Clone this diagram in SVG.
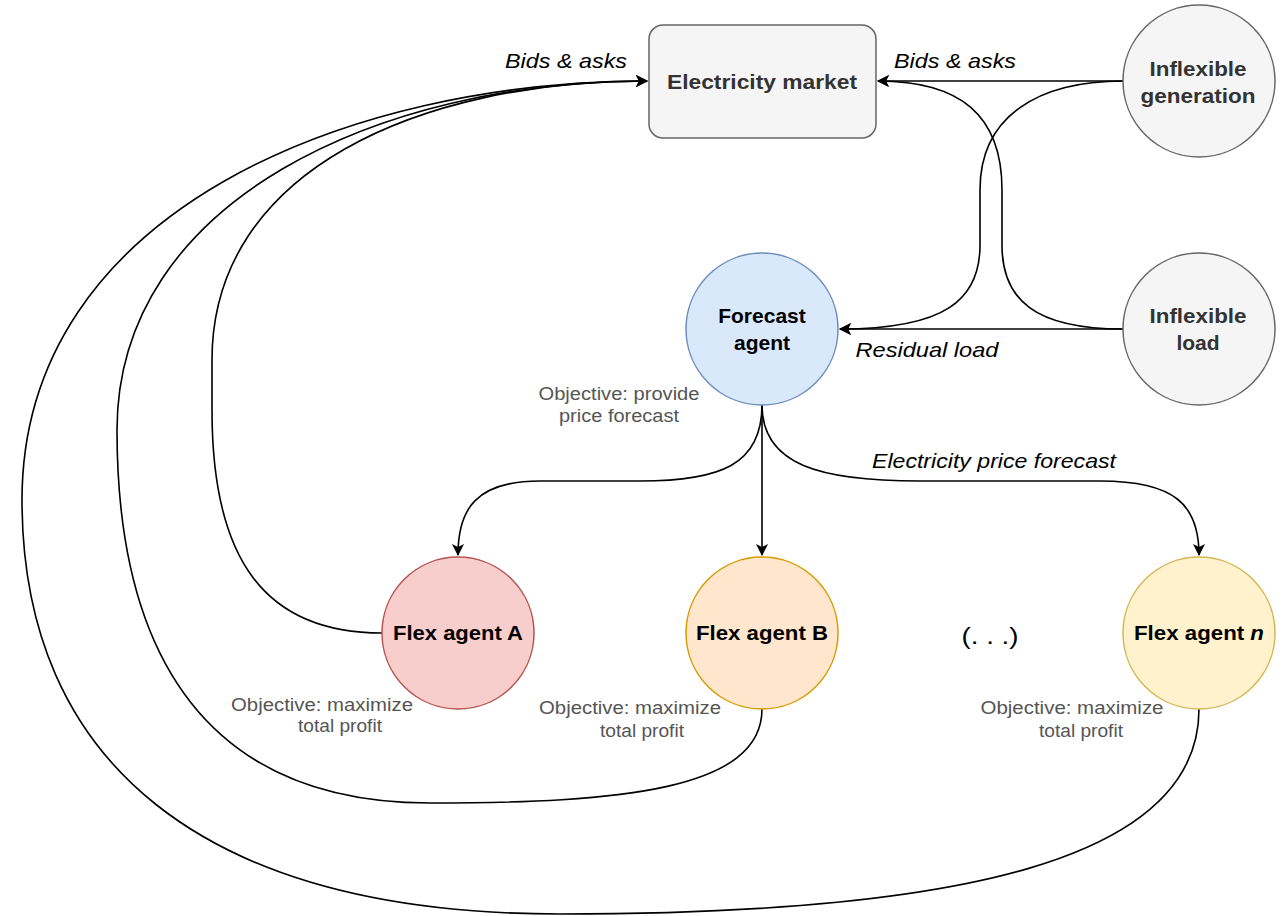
<svg xmlns="http://www.w3.org/2000/svg" width="1288" height="916" viewBox="0 0 1288 916">
<style>
.lbl{font-family:"Liberation Sans",Arial,sans-serif;font-weight:bold;font-size:21px;text-anchor:middle}
.it{font-family:"Liberation Sans",Arial,sans-serif;font-style:italic;font-size:21px;fill:#000;text-anchor:middle}
.obj{font-family:"Liberation Sans",Arial,sans-serif;font-size:17.5px;fill:#555;text-anchor:middle}
.edge{fill:none;stroke:#000;stroke-width:1.6}
</style>
<defs>
<marker id="arr" viewBox="0 0 12 12" refX="11" refY="6" markerWidth="12" markerHeight="12" markerUnits="userSpaceOnUse" orient="auto">
<path d="M0,0 L12,6 L0,12 L3,6 Z" fill="#000"/>
</marker>
</defs>
<rect width="1288" height="916" fill="#fff"/>
<g id="connectors">
<path class="edge" d="M1123 81 L878 81" marker-end="url(#arr)"/>
<path class="edge" d="M1123 329 C1035 329 1002 300 1002 245 L1002 190 C1002 115 960 81 878 81" marker-end="url(#arr)"/>
<path class="edge" d="M1123 81 C1040 81 980 115 980 190 L980 245 C980 300 945 329 840 329" marker-end="url(#arr)"/>
<path class="edge" d="M1123 329 L840 329" marker-end="url(#arr)"/>
<path class="edge" d="M762 405 C762 465 720 481 640 481 L540 481 C475 481 458 510 458 555" marker-end="url(#arr)"/>
<path class="edge" d="M762 405 L762 555" marker-end="url(#arr)"/>
<path class="edge" d="M762 405 C762 465 820 481 920 481 L1100 481 C1175 481 1199 505 1199 555" marker-end="url(#arr)"/>
<path class="edge" d="M382 633 C265 633 212 560 212 410 L212 360 C212 170 420 81 647 81" marker-end="url(#arr)"/>
<path class="edge" d="M762 709 C762 790 620 803 430 803 C210 803 117 660 117 430 C117 200 380 81 647 81" marker-end="url(#arr)"/>
<path class="edge" d="M1199 709 C1199 860 960 914 560 914 C200 914 22 760 22 500 C22 210 350 81 647 81" marker-end="url(#arr)"/>
<text class="it" x="566" y="68" textLength="122" lengthAdjust="spacingAndGlyphs">Bids &amp; asks</text>
<text class="it" x="955" y="68" textLength="122" lengthAdjust="spacingAndGlyphs">Bids &amp; asks</text>
<text class="it" x="927" y="357" textLength="143" lengthAdjust="spacingAndGlyphs">Residual load</text>
<text class="it" x="994" y="468" textLength="244" lengthAdjust="spacingAndGlyphs">Electricity price forecast</text>
</g>
<g id="market">
<rect x="649" y="25" width="227" height="113" rx="14" fill="#f5f5f5" stroke="#666" stroke-width="1.5"/>
<text class="lbl" x="762" y="89" fill="#333" textLength="190" lengthAdjust="spacingAndGlyphs">Electricity market</text>
</g>
<g id="inflex-gen">
<circle cx="1199" cy="81" r="76" fill="#f5f5f5" stroke="#666" stroke-width="1.5"/>
<text class="lbl" x="1198" y="76" fill="#333" textLength="97" lengthAdjust="spacingAndGlyphs">Inflexible</text>
<text class="lbl" x="1198" y="103" fill="#333" textLength="115" lengthAdjust="spacingAndGlyphs">generation</text>
</g>
<g id="inflex-load">
<circle cx="1199" cy="329" r="76" fill="#f5f5f5" stroke="#666" stroke-width="1.5"/>
<text class="lbl" x="1198" y="323" fill="#333" textLength="97" lengthAdjust="spacingAndGlyphs">Inflexible</text>
<text class="lbl" x="1198" y="350" fill="#333">load</text>
</g>
<g id="forecast">
<circle cx="762" cy="329" r="76" fill="#dae8fc" stroke="#6c8ebf" stroke-width="1.5"/>
<text class="lbl" x="762" y="323" fill="#000">Forecast</text>
<text class="lbl" x="762" y="350" fill="#000">agent</text>
<text class="obj" x="619" y="400" textLength="161" lengthAdjust="spacingAndGlyphs">Objective: provide</text>
<text class="obj" x="619" y="422" textLength="120" lengthAdjust="spacingAndGlyphs">price forecast</text>
</g>
<g id="flex-a">
<circle cx="458" cy="633" r="76" fill="#f8cecc" stroke="#b85450" stroke-width="1.5"/>
<text class="lbl" x="458" y="640" fill="#000" textLength="130" lengthAdjust="spacingAndGlyphs">Flex agent A</text>
<text class="obj" x="322" y="711" textLength="182" lengthAdjust="spacingAndGlyphs">Objective: maximize</text>
<text class="obj" x="340" y="732" textLength="84" lengthAdjust="spacingAndGlyphs">total profit</text>
</g>
<g id="flex-b">
<circle cx="762" cy="633" r="76" fill="#ffe6cc" stroke="#d79b00" stroke-width="1.5"/>
<text class="lbl" x="762" y="640" fill="#000" textLength="132" lengthAdjust="spacingAndGlyphs">Flex agent B</text>
<text class="obj" x="630" y="714" textLength="182" lengthAdjust="spacingAndGlyphs">Objective: maximize</text>
<text class="obj" x="642" y="737" textLength="84" lengthAdjust="spacingAndGlyphs">total profit</text>
</g>
<g id="ellipsis">
<text x="990" y="644" font-family="Liberation Sans,Arial,sans-serif" font-size="24" text-anchor="middle" fill="#000" textLength="57" lengthAdjust="spacingAndGlyphs">(. . .)</text>
</g>
<g id="flex-n">
<circle cx="1199" cy="633" r="76" fill="#fff2cc" stroke="#d6b656" stroke-width="1.5"/>
<text class="lbl" x="1199" y="640" fill="#000" textLength="130" lengthAdjust="spacingAndGlyphs">Flex agent <tspan font-style="italic">n</tspan></text>
<text class="obj" x="1072" y="714" textLength="183" lengthAdjust="spacingAndGlyphs">Objective: maximize</text>
<text class="obj" x="1081" y="737" textLength="84" lengthAdjust="spacingAndGlyphs">total profit</text>
</g>
</svg>
